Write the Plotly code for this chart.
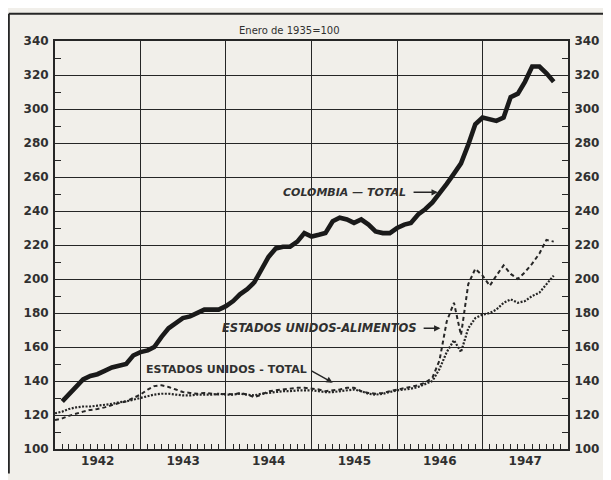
import pandas as pd
import plotly.graph_objects as go

# monthly index numbers, Jan 1935 = 100
colombia_start = "1942-02-01"
colombia_total = [
    128, 132, 137, 141, 143, 144, 146, 148, 149, 150, 155,
    157, 158, 160, 166, 171, 174, 177, 178, 180, 182, 182, 182,
    184, 187, 191, 194, 198, 206, 213, 218, 219, 219, 222, 227,
    225, 226, 227, 234, 236, 235, 233, 235, 232, 228, 227, 227,
    230, 232, 233, 238, 241, 245, 250, 256, 262, 268, 279, 291,
    295, 294, 293, 295, 307, 309, 316, 325, 325, 321, 316,
]

us_start = "1942-01-01"
us_alimentos = [
    117, 118, 119.5, 121, 122, 123, 123.5, 124.5, 126, 127, 128, 130,
    132, 135, 137, 137.5, 136.5, 135, 133.5, 133, 132.5, 133, 132.5, 132,
    132.5, 132, 133, 132, 130.5, 132, 134, 134.5, 135, 135.5, 136, 136,
    135.5, 135, 134, 134.5, 135, 136, 136, 134, 133, 132.5, 133, 134,
    135, 136, 136.5, 137.5, 139, 142, 152, 175, 186, 167, 197, 206,
    202, 196, 202, 208, 203, 200, 204, 209, 215, 223, 222,
]
us_total = [
    121, 122, 123.5, 124.5, 125, 125, 125.5, 126, 126.5, 127.5, 128, 129,
    130, 131, 132, 132.5, 132.5, 132, 131.5, 131.5, 132, 132, 132, 132.5,
    132, 132, 132.5, 132, 131.5, 132.5, 133, 133.5, 134, 134, 134.5, 134.5,
    134.5, 134, 133.5, 133.5, 134, 134.5, 135, 134, 132.5, 132, 132.5, 133.5,
    134.5, 135, 135.5, 136.5, 138, 140, 147, 157, 164, 157, 171, 177,
    179, 180, 182, 186, 188, 186, 187, 190, 192, 197, 202,
]

y_ticks = list(range(100, 341, 20))

col_x = pd.date_range(colombia_start, periods=len(colombia_total), freq="MS")
us_x = pd.date_range(us_start, periods=len(us_total), freq="MS")

INK = "#262626"
BG = "#f1efea"
LABEL_FONT = dict(family="DejaVu Sans", size=12, color="#303030", weight="bold")
NOTE_FONT = dict(family="DejaVu Sans", size=11, color="#303030", weight="bold")

fig = go.Figure()
fig.add_trace(go.Scatter(x=us_x, y=us_alimentos, mode="lines",
                         line=dict(color=INK, width=2, dash="4px,3px"),
                         hoverinfo="skip", showlegend=False))
# the total series sits on the right-hand axis so that axis gets drawn
fig.add_trace(go.Scatter(x=us_x, y=us_total, mode="lines", yaxis="y2",
                         line=dict(color=INK, width=2.2, dash="2px,1.5px"),
                         hoverinfo="skip", showlegend=False))
fig.add_trace(go.Scatter(x=col_x, y=colombia_total, mode="lines",
                         line=dict(color="#1a1a1a", width=4.6),
                         hoverinfo="skip", showlegend=False))

yax = dict(range=[100, 340], tickvals=y_ticks, showgrid=True, gridcolor=INK,
           gridwidth=1.3, showline=True, linecolor=INK, linewidth=2,
           ticks="", tickfont=LABEL_FONT, zeroline=False, fixedrange=True,
           minor=dict(tickvals=list(range(110, 340, 20)), ticks="inside",
                      ticklen=6, tickcolor=INK, tickwidth=1.2, showgrid=False))

# the page body keeps its default 8px margin, so the figure is 8px smaller
# and the margins are trimmed to put the plot area where the print has it
fig.update_layout(
    width=603, height=472,
    margin=dict(l=47, r=43, t=33, b=19),
    paper_bgcolor=BG, plot_bgcolor=BG,
    xaxis=dict(type="date", range=["1942-01-01", "1948-01-01"],
               tick0="1942-01-01", dtick="M12", ticklabelmode="period",
               tickformat="%Y", showgrid=True, gridcolor=INK, gridwidth=1.3,
               showline=True, linecolor=INK, linewidth=2, mirror=True,
               ticks="", tickfont=LABEL_FONT, zeroline=False,
               minor=dict(dtick="M1", ticks="inside", ticklen=5,
                          tickcolor=INK, tickwidth=1.2, showgrid=False)),
    yaxis=dict(**yax, side="left", ticklabelstandoff=2),
    yaxis2=dict(**yax, side="right", overlaying="y", ticklabelstandoff=2),
    annotations=[
        dict(text="Enero de 1935=100", xref="paper", yref="paper",
             x=0.458, y=1.008, yanchor="bottom", showarrow=False,
             font=dict(family="DejaVu Sans", size=10, color="#303030")),
        dict(text="<i>COLOMBIA — TOTAL</i>", x="1946-02-15", y=251,
             xanchor="right", showarrow=False, font=NOTE_FONT),
        dict(text="", x="1946-06-24", y=251, ax="1946-03-06", ay=251,
             axref="x", ayref="y", showarrow=True, arrowhead=2,
             arrowwidth=1.4, arrowsize=0.9, arrowcolor=INK),
        dict(text="<i>ESTADOS UNIDOS-ALIMENTOS</i>", x="1946-04-05", y=171,
             xanchor="right", showarrow=False,
             font=dict(NOTE_FONT, size=11.5)),
        dict(text="", x="1946-07-05", y=171, ax="1946-04-18", ay=171,
             axref="x", ayref="y", showarrow=True, arrowhead=2,
             arrowwidth=1.4, arrowsize=0.9, arrowcolor=INK),
        dict(text="ESTADOS UNIDOS - TOTAL", x="1944-01-05", y=146.5,
             showarrow=False, font=NOTE_FONT),
        dict(text="", x="1945-04-01", y=139, ax="1944-12-25", ay=146.5,
             axref="x", ayref="y", showarrow=True, arrowhead=2,
             arrowwidth=1.4, arrowsize=0.9, arrowcolor=INK),
    ],
    shapes=[
        # outer frame of the printed figure
        dict(type="line", xref="paper", yref="paper", x0=-0.09, x1=1.1,
             y0=1.067, y1=1.067, line=dict(color=INK, width=2)),
        dict(type="line", xref="paper", yref="paper", x0=-0.09, x1=-0.09,
             y0=1.067, y1=-0.06, line=dict(color=INK, width=2)),
    ],
)

fig.write_html("out.html")
